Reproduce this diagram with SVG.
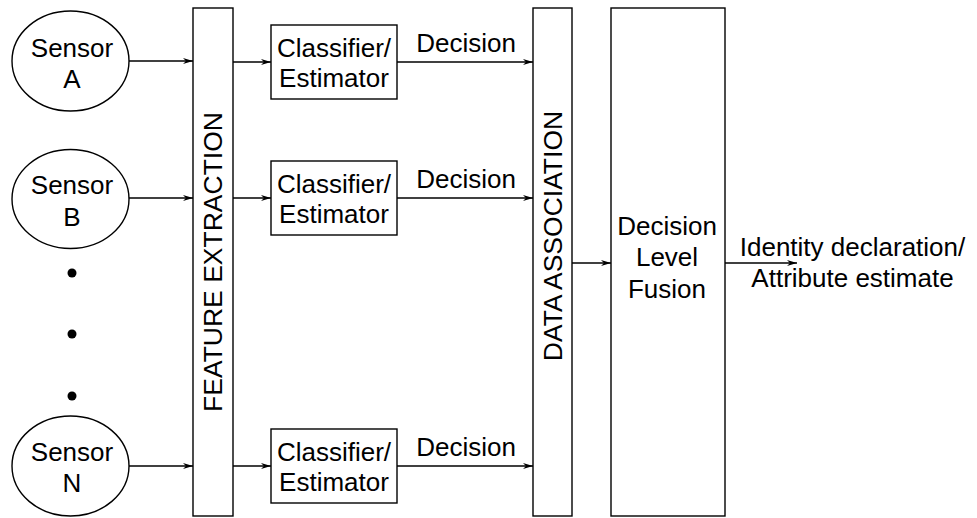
<svg xmlns="http://www.w3.org/2000/svg" width="977" height="518" viewBox="0 0 977 518">
<style>
.s{fill:#fff;stroke:#000;stroke-width:1.4}
.t{font-family:"Liberation Sans",Arial,Helvetica,sans-serif;font-size:26px;fill:#000;text-anchor:middle}
.v{font-size:26.5px}
.c{stroke:#000;stroke-width:1.3;fill:none;marker-end:url(#ah)}
</style>
<defs>
<marker id="ah" markerUnits="userSpaceOnUse" markerWidth="11" markerHeight="8" refX="10" refY="3.5" orient="auto">
<path d="M0,0.5 L10,3.5 L0,6.5 L3,3.5 z" fill="#000"/>
</marker>
</defs>
<rect width="977" height="518" fill="#fff"/>
<g id="sensorA"><ellipse class="s" cx="70.5" cy="61" rx="58.5" ry="50"/><text class="t" x="72" y="57">Sensor</text><text class="t" x="72" y="88">A</text></g>
<g id="sensorB"><ellipse class="s" cx="70.5" cy="199" rx="58.5" ry="49.5"/><text class="t" x="72" y="194">Sensor</text><text class="t" x="72" y="226">B</text></g>
<g id="sensorN"><ellipse class="s" cx="70.5" cy="466" rx="58.5" ry="50"/><text class="t" x="72" y="461">Sensor</text><text class="t" x="72" y="492">N</text></g>
<g id="dots"><circle cx="72" cy="273" r="4.5"/><circle cx="72" cy="334" r="4.5"/><circle cx="72" cy="396" r="4.5"/></g>
<g id="featureExtraction"><rect class="s" x="193" y="8" width="40" height="508"/><text class="t v" transform="translate(222,262) rotate(-90)">FEATURE EXTRACTION</text></g>
<g id="classA"><rect class="s" x="271" y="25" width="126" height="74"/><text class="t" x="334" y="57">Classifier/</text><text class="t" x="334" y="87">Estimator</text></g>
<g id="classB"><rect class="s" x="271" y="161" width="126" height="74"/><text class="t" x="334" y="193">Classifier/</text><text class="t" x="334" y="223">Estimator</text></g>
<g id="classN"><rect class="s" x="271" y="429" width="126" height="74"/><text class="t" x="334" y="461">Classifier/</text><text class="t" x="334" y="491">Estimator</text></g>
<g id="dataAssociation"><rect class="s" x="533" y="8" width="39" height="508"/><text class="t v" transform="translate(562,236) rotate(-90)">DATA ASSOCIATION</text></g>
<g id="fusion"><rect class="s" x="611" y="8" width="114" height="508"/><text class="t" x="667" y="235">Decision</text><text class="t" x="667" y="266">Level</text><text class="t" x="667" y="298">Fusion</text></g>
<g id="connectors">
<line class="c" x1="129" y1="61" x2="193" y2="61"/>
<line class="c" x1="129" y1="198" x2="193" y2="198"/>
<line class="c" x1="129" y1="466" x2="193" y2="466"/>
<line class="c" x1="233" y1="62" x2="271" y2="62"/>
<line class="c" x1="233" y1="198" x2="271" y2="198"/>
<line class="c" x1="233" y1="466" x2="271" y2="466"/>
<line class="c" x1="397" y1="62" x2="533" y2="62"/>
<line class="c" x1="397" y1="198" x2="533" y2="198"/>
<line class="c" x1="397" y1="466" x2="533" y2="466"/>
<line class="c" x1="572" y1="263" x2="611" y2="263"/>
<line class="c" x1="725" y1="263" x2="797" y2="263"/>
<text class="t" x="466" y="52">Decision</text>
<text class="t" x="466" y="188">Decision</text>
<text class="t" x="466" y="456">Decision</text>
<text class="t" x="852.5" y="256">Identity declaration/</text>
<text class="t" x="852.5" y="287">Attribute estimate</text>
</g>
</svg>
